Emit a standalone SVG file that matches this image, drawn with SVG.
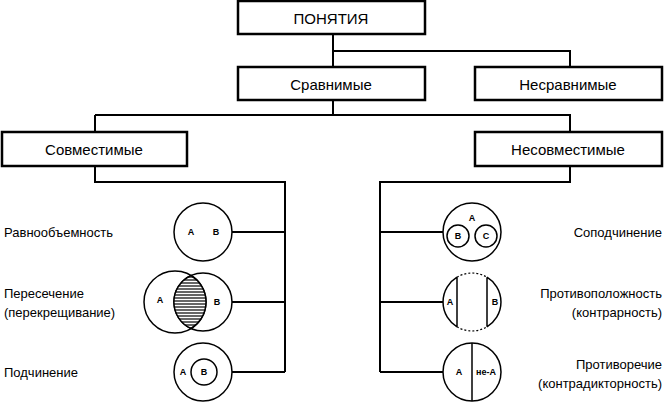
<svg xmlns="http://www.w3.org/2000/svg" width="665" height="402" viewBox="0 0 665 402">
<style>
.box{fill:#fff;stroke:#000;stroke-width:2.5}
.ln{fill:none;stroke:#000;stroke-width:2}
.thin{fill:none;stroke:#000;stroke-width:1.5}
.c{fill:#fff;stroke:#000;stroke-width:1.5}
.t{font-family:"Liberation Sans",Arial,sans-serif;font-size:15px;fill:#000;text-anchor:middle;dominant-baseline:central}
.s{font-family:"Liberation Sans",Arial,sans-serif;font-size:13px;fill:#000;dominant-baseline:central}
.m{font-family:"Liberation Sans",Arial,sans-serif;font-size:9px;font-weight:bold;fill:#000;text-anchor:middle;dominant-baseline:central}
</style>
<defs>
<pattern id="h" width="4" height="3" patternUnits="userSpaceOnUse"><rect width="4" height="3" fill="#fff"/><line x1="0" y1="1" x2="4" y2="1" stroke="#000" stroke-width="1.2"/></pattern>
</defs>
<g id="connectors" class="ln">
<path d="M333 34V67M333 51H570V67M333 100V115M95 115H570V132M95 115V132M95 166V182H285V372M570 166V182H380V372"/>
<path d="M232 232H285M232 302H285M232 372H285M380 232H443M380 302H443M380 372H443"/>
</g>
<g id="n-ponyatiya"><rect class="box" x="238" y="1" width="187" height="33"/><text class="t" x="331" y="18">ПОНЯТИЯ</text></g>
<g id="n-sravnimye"><rect class="box" x="238" y="67" width="187" height="33"/><text class="t" x="331" y="84">Сравнимые</text></g>
<g id="n-nesravnimye"><rect class="box" x="475" y="67" width="187" height="33"/><text class="t" x="568" y="84">Несравнимые</text></g>
<g id="n-sovmestimye"><rect class="box" x="2" y="132" width="185" height="34"/><text class="t" x="94" y="149">Совместимые</text></g>
<g id="n-nesovmestimye"><rect class="box" x="475" y="132" width="187" height="34"/><text class="t" x="568" y="149">Несовместимые</text></g>
<g id="n-ravno">
<circle class="c" cx="203" cy="232" r="29"/><text class="m" x="191" y="232">A</text><text class="m" x="216" y="232">B</text>
<text class="s" x="4" y="232">Равнообъемность</text>
</g>
<g id="n-peresech">
<circle class="thin" cx="175" cy="302" r="31"/>
<circle class="thin" cx="203" cy="302" r="29"/>
<path d="M191.1 275.5A29 29 0 0 0 191.1 328.5A31 31 0 0 0 191.1 275.5Z" fill="url(#h)" stroke="#000" stroke-width="1.5"/>
<text class="m" x="160" y="300">A</text><text class="m" x="217" y="302">B</text>
<text class="s" x="4" y="293">Пересечение</text><text class="s" x="4" y="312">(перекрещивание)</text>
</g>
<g id="n-podch">
<circle class="c" cx="203" cy="372" r="29"/><circle class="c" cx="204" cy="372" r="13"/>
<text class="m" x="183" y="372">A</text><text class="m" x="204" y="372">B</text>
<text class="s" x="4" y="372">Подчинение</text>
</g>
<g id="n-sopodch">
<circle class="c" cx="472" cy="232" r="29"/><circle class="c" cx="458" cy="236" r="11"/><circle class="c" cx="486" cy="236" r="11"/>
<text class="m" x="472" y="218">A</text><text class="m" x="458" y="236">B</text><text class="m" x="486" y="236">C</text>
<text class="s" x="662" y="232" text-anchor="end">Соподчинение</text>
</g>
<g id="n-kontrar">
<path d="M457 277.2A29 29 0 0 0 457 326.8M487 277.2A29 29 0 0 1 487 326.8M457 277.2V326.8M487 277.2V326.8" class="thin"/>
<path d="M457 277.2A29 29 0 0 1 487 277.2M457 326.8A29 29 0 0 0 487 326.8" fill="none" stroke="#000" stroke-width="1.2" stroke-dasharray="2 2"/>
<text class="m" x="450" y="302">A</text><text class="m" x="495" y="302">B</text>
<text class="s" x="662" y="293" text-anchor="end">Противоположность</text><text class="s" x="662" y="312" text-anchor="end">(контрарность)</text>
</g>
<g id="n-kontradikt">
<circle class="c" cx="472" cy="372" r="29"/><path d="M472 343V401" class="thin"/>
<text class="m" x="459" y="372">A</text><text class="m" x="486" y="372">не-А</text>
<text class="s" x="662" y="364" text-anchor="end">Противоречие</text><text class="s" x="662" y="383" text-anchor="end">(контрадикторность)</text>
</g>
</svg>
